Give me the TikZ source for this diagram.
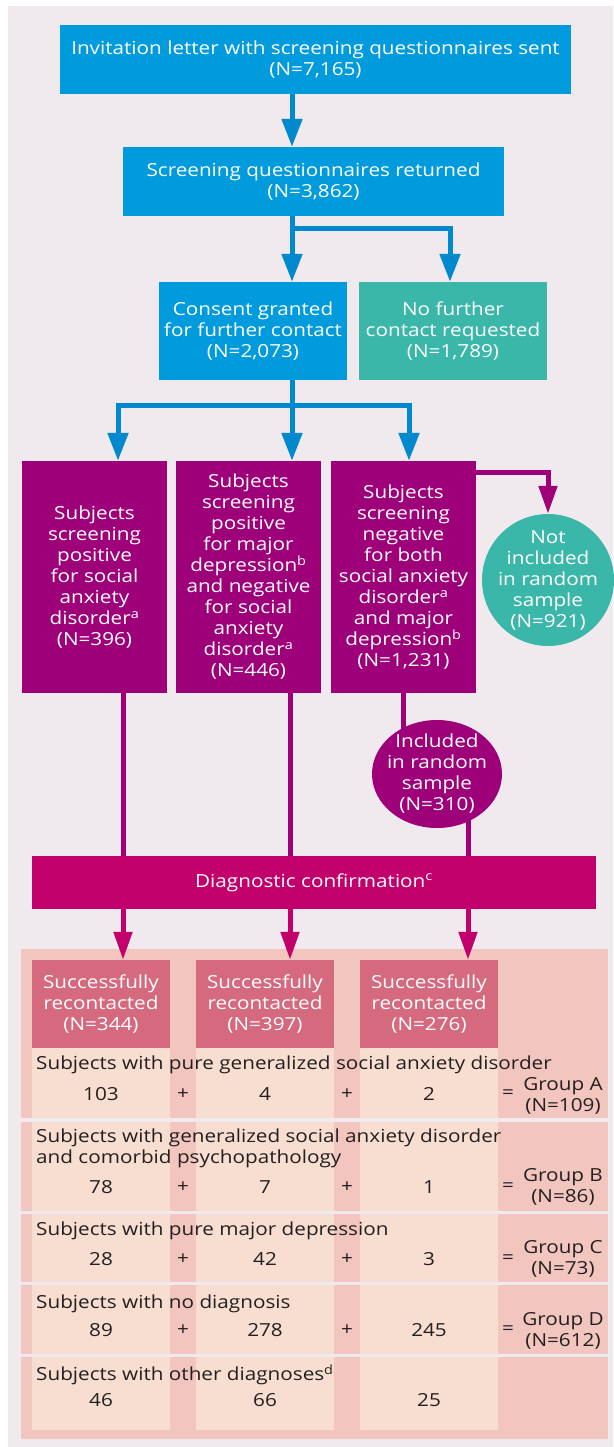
\documentclass[tikz,border=0pt]{standalone}
\usepackage{fontspec}
\setmainfont{Open Sans}[FakeStretch=1.15]
\usetikzlibrary{arrows.meta,shapes.geometric}
\pgfdeclarelayer{back}
\pgfdeclarelayer{lines}
\pgfsetlayers{back,lines,main}
\definecolor{lav}{RGB}{240,234,239}
\definecolor{cblue}{RGB}{0,155,220}
\definecolor{ablue}{RGB}{0,137,205}
\definecolor{cteal}{RGB}{58,183,168}
\definecolor{cpurp}{RGB}{158,0,122}
\definecolor{cmag}{RGB}{194,0,107}
\definecolor{chead}{RGB}{213,105,125}
\definecolor{cpink}{RGB}{242,198,190}
\definecolor{cpeach}{RGB}{247,222,208}
\definecolor{ctext}{RGB}{35,31,32}
\newcommand\fs{\fontsize{18}{21}\selectfont}
\begin{document}
\begin{tikzpicture}[x=1pt,y=-1pt,
  fbox/.style={inner sep=0pt, align=center, font=\fs, text=white},
  bluebox/.style={fbox, fill=cblue},
  tealbox/.style={fbox, fill=cteal},
  purpbox/.style={fbox, fill=cpurp, minimum width=145pt, minimum height=232pt},
  headbox/.style={fbox, fill=chead, minimum width=138pt, minimum height=88pt},
  barrow/.style={draw=ablue, line width=5pt, -{Triangle[length=28pt,width=20pt]}},
  parrow/.style={draw=cpurp, line width=5pt, -{Triangle[length=28pt,width=18pt]}},
  pline/.style={draw=cpurp, line width=5pt},
  marrow/.style={draw=cmag, line width=5pt, -{Triangle[length=28pt,width=18pt]}},
  ttext/.style={inner sep=0pt, font=\fs, text=ctext},
]
\useasboundingbox (0,0) rectangle (613,1447);
% ---------- background and table ----------
\begin{pgfonlayer}{back}
\fill[white] (0,0) rectangle (613,1447);
\fill[lav] (8,6) rectangle (613,1447);
\fill[cpink] (21,949) rectangle (608,1439);
\fill[lav] (21,1118) rectangle (608,1122);
\fill[lav] (21,1211) rectangle (608,1214);
\fill[lav] (21,1282) rectangle (608,1285);
\fill[lav] (21,1354) rectangle (608,1357);
\foreach \xa in {32,196,360}{
  \fill[cpeach] (\xa,1048) rectangle ++(138,70);
  \fill[cpeach] (\xa,1122) rectangle ++(138,89);
  \fill[cpeach] (\xa,1214) rectangle ++(138,68);
  \fill[cpeach] (\xa,1285) rectangle ++(138,69);
  \fill[cpeach] (\xa,1357) rectangle ++(138,73);
}
\end{pgfonlayer}
% ---------- flow nodes ----------
\node[bluebox, minimum width=511pt, minimum height=69pt] (top) at (315.5,59.5)
  {Invitation letter with screening questionnaires sent\\(N=7,165)};
\node[bluebox, minimum width=381pt, minimum height=69pt] (ret) at (313.5,181.5)
  {Screening questionnaires returned\\(N=3,862)};
\node[bluebox, minimum width=188pt, minimum height=98pt] (cons) at (253,331)
  {Consent granted\\for further contact\\(N=2,073)};
\node[tealbox, minimum width=188pt, minimum height=98pt] (nofur) at (453,331)
  {No further\\contact requested\\(N=1,789)};
\node[purpbox] (p1) at (94.5,577)
  {Subjects\\screening\\positive\\for social\\anxiety\\disorder\textsuperscript{a}\\(N=396)};
\node[purpbox] (p2) at (248.5,577)
  {Subjects\\screening\\positive\\for major\\depression\textsuperscript{b}\\and negative\\for social\\anxiety\\disorder\textsuperscript{a}\\(N=446)};
\node[purpbox] (p3) at (403.5,577)
  {Subjects\\screening\\negative\\for both\\social anxiety\\disorder\textsuperscript{a}\\and major\\depression\textsuperscript{b}\\(N=1,231)};
\node[circle, fill=cteal, minimum size=132pt, inner sep=0pt] (notinc) at (548,580) {};
\node[fbox] (notincT) at (notinc.center) {Not\\included\\in random\\sample\\(N=921)};
\node[ellipse, fill=cpurp, minimum width=130pt, minimum height=108pt, inner sep=0pt] (inc) at (437,774) {};
\node[fbox] (incT) at (inc.center) {Included\\in random\\sample\\(N=310)};
\node[fbox, fill=cmag, minimum width=564pt, minimum height=53pt] (diag) at (314,882.5)
  {Diagnostic confirmation\textsuperscript{c}};
\node[headbox] (h1) at (101,1004) {Successfully\\recontacted\\(N=344)};
\node[headbox] (h2) at (265,1004) {Successfully\\recontacted\\(N=397)};
\node[headbox] (h3) at (429,1004) {Successfully\\recontacted\\(N=276)};
% ---------- connectors ----------
\coordinate (xA) at (292,0);
\coordinate (xB) at (450,0);
\coordinate (yB) at (0,229);
\coordinate (yC) at (0,405);
\coordinate (x1) at (118,0);
\coordinate (x3) at (409,0);
\coordinate (yN) at (0,472);
\coordinate (xL1) at (123,0);
\coordinate (xL2) at (290,0);
\coordinate (xL3) at (468,0);
\begin{pgfonlayer}{lines}
\draw[barrow] (top.south -| xA) -- (ret.north -| xA);
\draw[barrow] (ret.south -| xA) -- (cons.north -| xA);
\draw[barrow] (xA |- yB) -| (nofur.north -| xB);
\draw[barrow] (cons.south -| xA) -- (p2.north -| xA);
\draw[barrow] (xA |- yC) -| (p1.north -| x1);
\draw[barrow] (xA |- yC) -| (p3.north -| x3);
\draw[parrow] (p3.east |- yN) -| (notinc.north);
\draw[pline] (p1.south -| xL1) -- (diag.north -| xL1);
\draw[pline] (p2.south -| xL2) -- (diag.north -| xL2);
\draw[pline] (p3.south) -- (p3.south |- inc.center);
\draw[pline] (inc.center -| xL3) -- (diag.north -| xL3);
\draw[marrow] (diag.south -| xL1) -- (h1.north -| xL1);
\draw[marrow] (diag.south -| xL2) -- (h2.north -| xL2);
\draw[marrow] (diag.south -| xL3) -- (h3.north -| xL3);
\end{pgfonlayer}
% ---------- table texts ----------
\node[ttext, anchor=west] (r1) at (36,1065) {Subjects with pure generalized social anxiety disorder};
\node[ttext, anchor=west, align=left] (r2) at (36,1148) {Subjects with generalized social anxiety disorder\\and comorbid psychopathology};
\node[ttext, anchor=west] (r3) at (36,1231) {Subjects with pure major depression};
\node[ttext, anchor=west] (r4) at (36,1304) {Subjects with no diagnosis};
\node[ttext, anchor=west] (r5) at (36,1375) {Subjects with other diagnoses\textsuperscript{d}};
% numbers
\node[ttext] (a1) at (101,1094) {103};
\node[ttext] (a2) at (183,1094) {+};
\node[ttext] (a3) at (265,1094) {4};
\node[ttext] (a4) at (347,1094) {+};
\node[ttext] (a5) at (429,1094) {2};
\node[ttext] (a6) at (508,1094) {=};
\node[ttext, align=center] (gA) at (563,1096) {Group A\\(N=109)};
\node[ttext] (b1) at (101,1187) {78};
\node[ttext] (b2) at (183,1187) {+};
\node[ttext] (b3) at (265,1187) {7};
\node[ttext] (b4) at (347,1187) {+};
\node[ttext] (b5) at (429,1187) {1};
\node[ttext] (b6) at (508,1187) {=};
\node[ttext, align=center] (gB) at (563,1186.5) {Group B\\(N=86)};
\node[ttext] (c1) at (101,1259) {28};
\node[ttext] (c2) at (183,1259) {+};
\node[ttext] (c3) at (265,1259) {42};
\node[ttext] (c4) at (347,1259) {+};
\node[ttext] (c5) at (429,1259) {3};
\node[ttext] (c6) at (508,1259) {=};
\node[ttext, align=center] (gC) at (563,1258.5) {Group C\\(N=73)};
\node[ttext] (d1) at (101,1330) {89};
\node[ttext] (d2) at (183,1330) {+};
\node[ttext] (d3) at (265,1330) {278};
\node[ttext] (d4) at (347,1330) {+};
\node[ttext] (d5) at (429,1330) {245};
\node[ttext] (d6) at (508,1330) {=};
\node[ttext, align=center] (gD) at (563,1331) {Group D\\(N=612)};
\node[ttext] (e1) at (101,1400) {46};
\node[ttext] (e3) at (265,1400) {66};
\node[ttext] (e5) at (429,1400) {25};
\end{tikzpicture}
\end{document}
